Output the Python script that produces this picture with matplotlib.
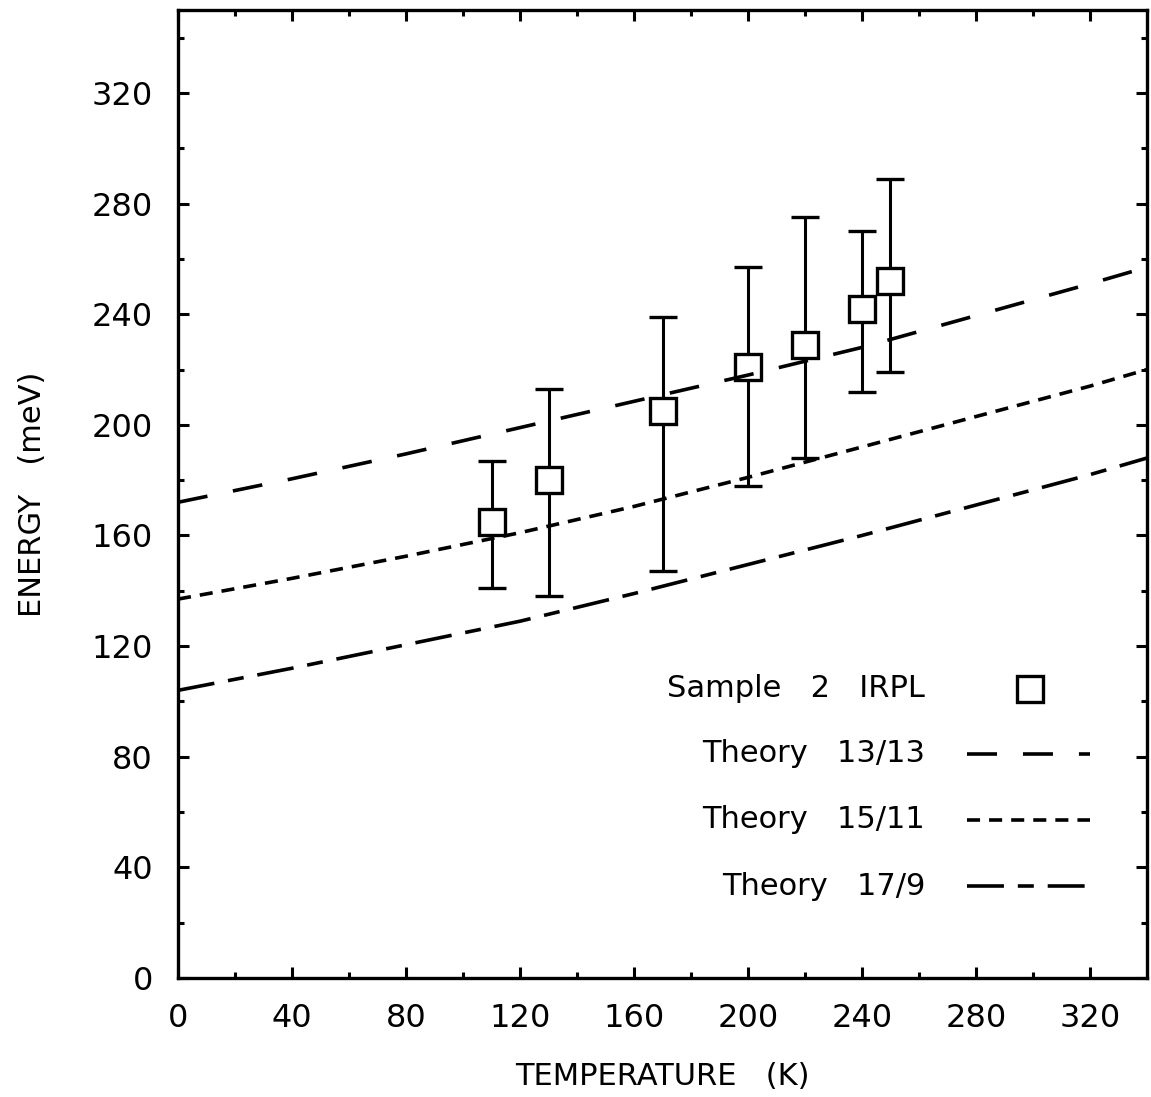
import numpy as np
import matplotlib
matplotlib.use("Agg")
import matplotlib.pyplot as plt

plt.rcParams['font.family'] = ['DejaVu Sans']
plt.rcParams['lines.scale_dashes'] = False

# measured points
temp = [110, 130, 170, 200, 220, 240, 250]
energy = [165, 180, 205, 221, 229, 242, 252]
err_lo = [141, 138, 147, 178, 188, 212, 219]
err_hi = [187, 213, 239, 257, 275, 270, 289]

# theory curves
t_theory = [0, 40, 80, 120, 160, 200, 240, 280, 320, 340]
th_13_13 = [172, 180.5, 189.5, 199, 208.5, 218, 228, 239.5, 251, 257]
th_15_11 = [137, 144.5, 152.5, 161, 170.5, 181, 192, 203, 214, 220]
th_17_9 = [104, 112, 120.5, 129, 139, 149.5, 160, 171, 182, 188]

ls_13 = (0, (21.6, 18.7))
ls_15 = (0, (9.4, 6.5))
ls_17 = (0, (26.6, 10, 11.5, 10))
lw = 2.6

fig = plt.figure(figsize=(11.51, 10.97), dpi=100)
ax = fig.add_axes([0.1547, 0.1085, 0.8418, 0.8824])

yerr = [np.array(energy) - np.array(err_lo), np.array(err_hi) - np.array(energy)]
ax.errorbar(temp, energy, yerr=yerr, fmt='s', color='black', ms=19,
            mfc='white', mec='black', mew=2.4, elinewidth=2.2,
            capsize=10, capthick=2.4, zorder=2)

ax.plot(t_theory, th_13_13, color='black', lw=lw, ls=ls_13, zorder=3)
ax.plot(t_theory, th_15_11, color='black', lw=lw, ls=ls_15, zorder=3)
ax.plot(t_theory, th_17_9, color='black', lw=lw, ls=ls_17, zorder=3)

ax.set_xlim(0, 340)
ax.set_ylim(0, 350)
ax.set_xticks(np.arange(0, 321, 40))
ax.set_yticks(np.arange(0, 321, 40))
ax.set_xticks(np.arange(20, 340, 40), minor=True)
ax.set_yticks(np.arange(20, 350, 40), minor=True)
ax.tick_params(which='both', direction='in', top=True, right=True, width=2.2,
               labelsize=23, pad=18)
ax.tick_params(which='major', length=8)
ax.tick_params(which='minor', length=4.5)
for s in ax.spines.values():
    s.set_linewidth(2.4)

ax.set_xlabel('TEMPERATURE   (K)', fontsize=22, labelpad=20)
ax.set_ylabel('ENERGY   (meV)', fontsize=22, labelpad=32)

# legend drawn by hand: right-aligned labels, samples on the right
tx = 0.771
rows = [0.2986, 0.2314, 0.1632, 0.095]
labels = ['Sample   2   IRPL', 'Theory   13/13', 'Theory   15/11', 'Theory   17/9']
for r, lab in zip(rows, labels):
    ax.text(tx, r, lab, transform=ax.transAxes, ha='right', va='center', fontsize=22)
ax.plot([0.879], [rows[0]], 's', ms=19, mfc='white', mec='black', mew=2.4,
        transform=ax.transAxes, clip_on=False)
for r, ls in zip(rows[1:], [ls_13, ls_15, ls_17]):
    ax.plot([0.814, 0.941], [r, r], color='black', lw=lw, ls=ls, transform=ax.transAxes)

fig.savefig('out.png', dpi=100, facecolor='w')
